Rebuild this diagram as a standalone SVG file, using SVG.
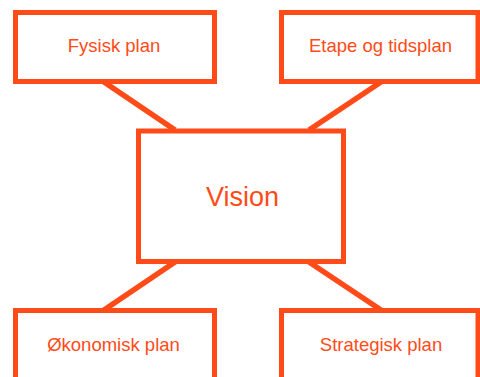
<svg xmlns="http://www.w3.org/2000/svg" width="480" height="377" viewBox="0 0 480 377">
<style>
.box{fill:#ffffff;stroke:#FF4B18;stroke-width:5}
.con{stroke:#FF4B18;stroke-width:5.5;fill:none}
text{font-family:"Liberation Sans",Arial,sans-serif;fill:#FF4B18;text-anchor:middle}
.s{font-size:18.5px}
.l{font-size:27px}
</style>
<rect width="480" height="377" fill="#ffffff"/>
<g id="connectors">
<line class="con" x1="104" y1="82" x2="175" y2="130"/>
<line class="con" x1="381" y1="82" x2="309" y2="130"/>
<line class="con" x1="175" y1="262" x2="104" y2="310"/>
<line class="con" x1="309" y1="262" x2="381" y2="310"/>
</g>
<g id="fysisk">
<rect class="box" x="15.5" y="12.5" width="199" height="69"/>
<text class="s" x="114" y="52">Fysisk plan</text>
</g>
<g id="etape">
<rect class="box" x="281.5" y="12.5" width="196.5" height="69"/>
<text class="s" x="380.5" y="52">Etape og tidsplan</text>
</g>
<g id="vision">
<rect class="box" x="138.5" y="131" width="205" height="130.5"/>
<text class="l" x="242.5" y="206">Vision</text>
</g>
<g id="okonomisk">
<rect class="box" x="15.5" y="310.5" width="199" height="80"/>
<text class="s" x="113.5" y="351">Økonomisk plan</text>
</g>
<g id="strategisk">
<rect class="box" x="281.5" y="310.5" width="196.5" height="80"/>
<text class="s" x="381" y="351">Strategisk plan</text>
</g>
</svg>
